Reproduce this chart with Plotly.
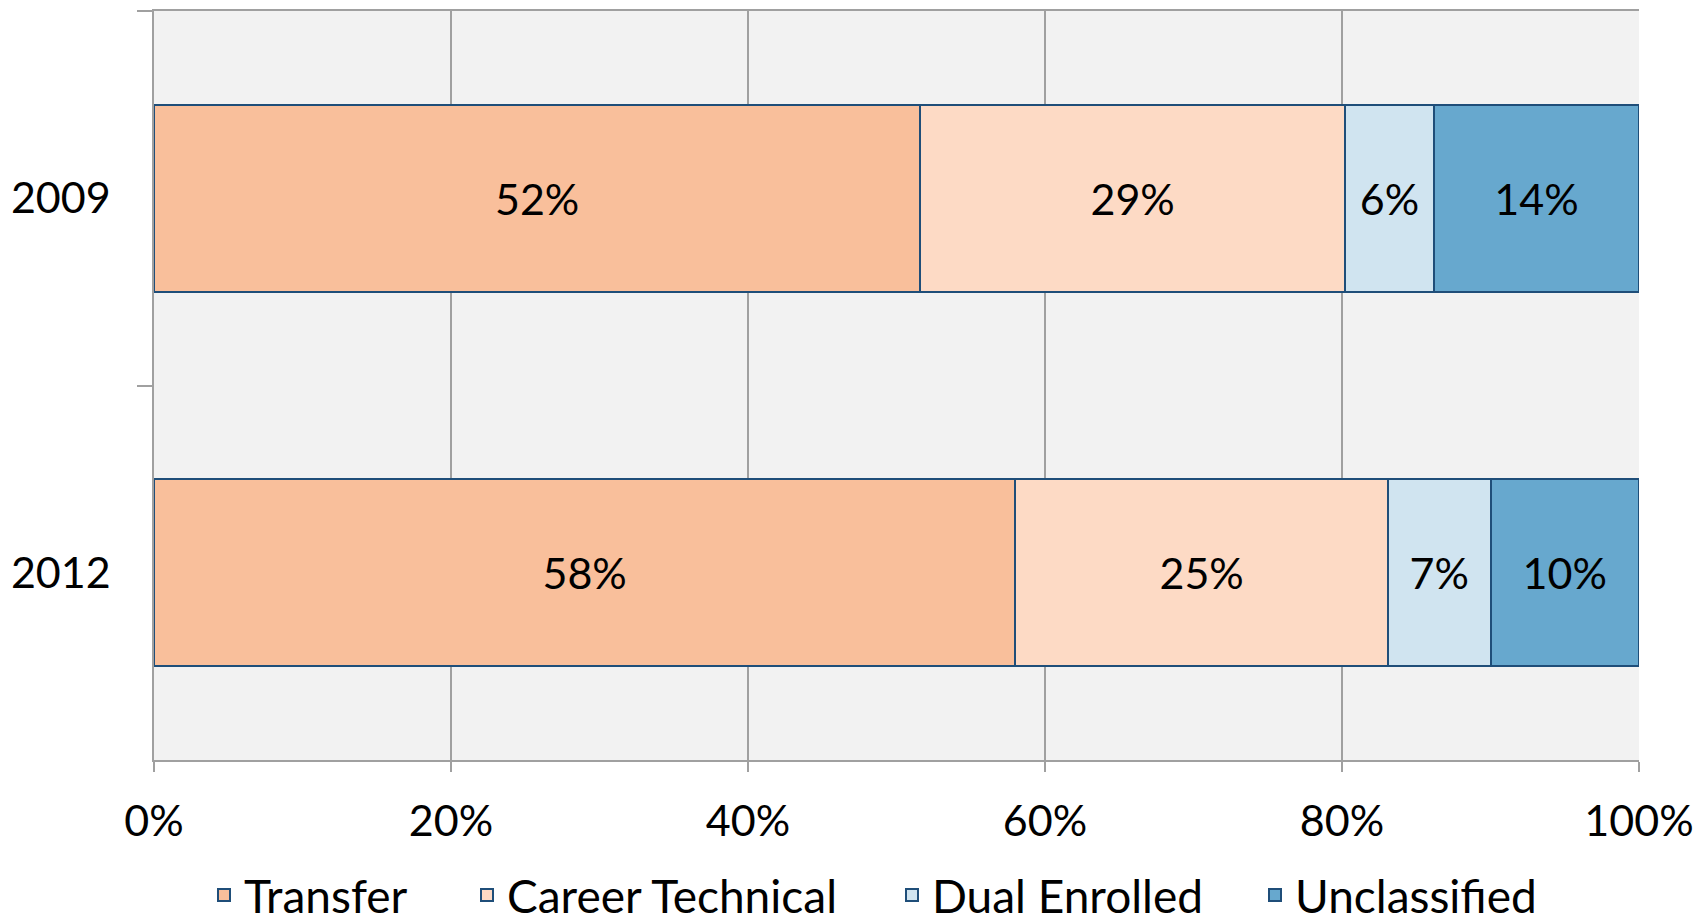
import plotly.graph_objects as go

years = ["2009", "2012"]
series_names = ["Transfer", "Career Technical", "Dual Enrolled", "Unclassified"]
transfer = [51.6, 58.0]
career_technical = [28.6, 25.1]
dual_enrolled = [6.0, 6.9]
unclassified = [13.8, 10.0]
x_tick_vals = [0, 20, 40, 60, 80, 100]
x_tick_text = ["0%", "20%", "40%", "60%", "80%", "100%"]

colors = ["#F9BF9B", "#FDDAC5", "#D0E4F0", "#67A8CE"]
values = [transfer, career_technical, dual_enrolled, unclassified]
legend_ids = ["legend", "legend2", "legend3", "legend4"]
legend_x_px = [204, 467, 892, 1255]

FONT = "Lato, Open Sans, sans-serif"
W, H = 1700, 923

fig = go.Figure()
for name, vals, col, lg in zip(series_names, values, colors, legend_ids):
    fig.add_trace(go.Bar(
        y=years, x=vals, name=name, orientation="h",
        marker=dict(color=col, line=dict(color="#1F4E79", width=2)),
        texttemplate="%{x:.0f}%", textposition="inside",
        insidetextanchor="middle", textangle=0,
        textfont=dict(size=43, color="black", family=FONT),
        hoverinfo="skip", legend=lg,
    ))

legend_layout = {}
for lg, xp in zip(legend_ids, legend_x_px):
    legend_layout[lg] = dict(
        orientation="h", xref="container", yref="container",
        x=xp / W, xanchor="left", y=28 / H, yanchor="middle",
        font=dict(size=46, color="black", family=FONT),
        bgcolor="rgba(0,0,0,0)",
    )

fig.update_layout(
    barmode="stack",
    bargap=0.5,
    width=W, height=H,
    margin=dict(l=154, r=61, t=11, b=163, autoexpand=False),
    paper_bgcolor="white",
    plot_bgcolor="#F2F2F2",
    font=dict(family=FONT, size=43, color="black"),
    showlegend=True,
    uniformtext=dict(minsize=43, mode="show"),
    **legend_layout,
)
fig.update_xaxes(
    range=[0, 100], tickvals=x_tick_vals, ticktext=x_tick_text,
    showgrid=True, gridcolor="#A0A0A0", gridwidth=1.5,
    showline=True, linecolor="#A0A0A0", linewidth=1.5, mirror=True,
    ticks="outside", ticklen=10, tickcolor="#A0A0A0", tickwidth=1.5,
    ticklabelstandoff=13, zeroline=False, automargin=False,
    tickfont=dict(size=43, color="black", family=FONT),
)
fig.update_yaxes(
    autorange="reversed", type="category",
    showgrid=False, automargin=False,
    showline=True, linecolor="#A0A0A0", linewidth=1.5,
    ticks="outside", ticklen=15, tickcolor="#A0A0A0", tickwidth=1.5,
    tickson="boundaries", ticklabelstandoff=33,
    tickfont=dict(size=43, color="black", family=FONT),
)

fig.write_html("out.html", config={"displayModeBar": False},
               post_script="document.body.style.margin='0';")
